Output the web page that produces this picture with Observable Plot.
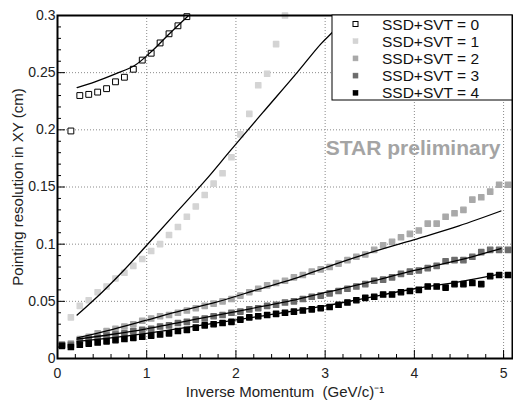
<!DOCTYPE html>
<html><head><meta charset="utf-8">
<script src="https://cdn.jsdelivr.net/npm/d3@7"></script>
<script src="https://cdn.jsdelivr.net/npm/@observablehq/plot@0.6"></script>
<style>html,body{margin:0;padding:0;background:#fff;}</style>
</head><body><div id="chart"></div>
<script>
// ---- data ----
const seriesNames = ["SSD+SVT = 0", "SSD+SVT = 1", "SSD+SVT = 2", "SSD+SVT = 3", "SSD+SVT = 4"];
const xs = [0.05,0.15,0.25,0.35,0.45,0.55,0.65,0.75,0.85,0.95,1.05,1.15,1.25,1.35,1.45,1.55,1.65,1.75,1.85,1.95,
  2.05,2.15,2.25,2.35,2.45,2.55,2.65,2.75,2.85,2.95,3.05,3.15,3.25,3.35,3.45,3.55,3.65,3.75,3.85,3.95,
  4.05,4.15,4.25,4.35,4.45,4.55,4.65,4.75,4.85,4.95,5.05];
// series 0 and 1 start at the second x value (0.15)
const y0 = [0.199,0.230,0.231,0.233,0.236,0.242,0.246,0.253,0.261,0.267,0.276,0.284,0.291,0.299];
const y1 = [0.036,0.046,0.051,0.058,0.063,0.070,0.075,0.081,0.087,0.094,0.100,0.108,0.115,0.124,0.133,0.143,
  0.153,0.162,0.176,0.196,0.214,0.239,0.249,0.275,0.300];
const y2 = [0.012,0.013,0.017,0.019,0.022,0.024,0.026,0.028,0.030,0.033,0.035,0.037,0.038,0.040,0.042,0.044,0.046,
  0.048,0.050,0.052,0.055,0.058,0.061,0.064,0.066,0.068,0.071,0.073,0.076,0.078,0.080,0.083,0.086,0.089,0.091,
  0.095,0.099,0.102,0.106,0.109,0.112,0.118,0.118,0.124,0.127,0.130,0.139,0.141,0.146,0.152,0.152];
const y3 = [0.012,0.012,0.015,0.017,0.018,0.020,0.021,0.022,0.024,0.025,0.026,0.028,0.029,0.031,0.032,0.034,0.035,
  0.037,0.038,0.040,0.041,0.043,0.044,0.046,0.047,0.049,0.050,0.052,0.054,0.055,0.057,0.059,0.061,0.063,0.065,
  0.068,0.069,0.071,0.074,0.076,0.077,0.079,0.081,0.085,0.086,0.086,0.089,0.093,0.095,0.095,0.095];
const y4 = [0.011,0.010,0.012,0.013,0.014,0.015,0.016,0.017,0.018,0.019,0.020,0.021,0.022,0.024,0.025,0.027,0.029,
  0.030,0.031,0.032,0.034,0.036,0.037,0.038,0.039,0.040,0.041,0.042,0.043,0.044,0.045,0.047,0.049,0.051,0.053,
  0.054,0.056,0.056,0.058,0.059,0.060,0.063,0.063,0.062,0.065,0.065,0.066,0.065,0.072,0.073,0.073];

// fit curves
const fit0X = [0.22,0.42,0.65,0.86,1.06,1.24,1.47];
const fit0Y = [0.237,0.242,0.249,0.256,0.269,0.283,0.300];
const fit1X = [0.22,0.5,0.76,1.0,1.3,1.66,1.94,2.3,2.69,2.95,3.09,3.25];
const fit1Y = [0.038,0.058,0.0785,0.099,0.125,0.156,0.182,0.215,0.2505,0.275,0.286,0.300];
const fit2X = [0.22,0.6,1.0,1.4,1.77,2.27,2.7,3.02,3.4,4.0,4.5,4.97];
const fit2Y = [0.018,0.025,0.0335,0.042,0.049,0.061,0.071,0.080,0.090,0.104,0.116,0.129];
const fit3X = [0.22,0.6,1.0,1.6,2.16,2.7,3.02,3.4,4.0,4.5,4.97];
const fit3Y = [0.017,0.021,0.026,0.035,0.0435,0.052,0.058,0.065,0.077,0.086,0.096];
const fit4X = [0.22,0.6,1.0,1.6,2.27,3.0,3.4,4.0,4.5,4.97];
const fit4Y = [0.015,0.018,0.022,0.029,0.037,0.046,0.052,0.061,0.067,0.074];

const xMajor = [0,1,2,3,4,5];
const xTickLabels = ["0","1","2","3","4","5"];
const xMinor = [0.2,0.4,0.6,0.8,1.2,1.4,1.6,1.8,2.2,2.4,2.6,2.8,3.2,3.4,3.6,3.8,4.2,4.4,4.6,4.8,5.0];
const yMajor = [0,0.05,0.1,0.15,0.2,0.25,0.3];
const yTickLabels = ["0","0.05","0.1","0.15","0.2","0.25","0.3"];
const yMinor = [0.01,0.02,0.03,0.04,0.06,0.07,0.08,0.09,0.11,0.12,0.13,0.14,0.16,0.17,0.18,0.19,
  0.21,0.22,0.23,0.24,0.26,0.27,0.28,0.29];
const xTitle = "Inverse Momentum  (GeV/c)⁻¹";
const yTitle = "Pointing resolution in XY (cm)";
const watermark = "STAR preliminary";

// ---- styles ----
const fills = ["white", "#d4d4d4", "#a9a9a9", "#6c6c6c", "#000000"];
const font = "'Liberation Sans', Arial, Helvetica, sans-serif";

// ---- build tables ----
const pts = (ys, offset, s) => ys.map((y, i) => ({x: xs[i + offset], y, s}));
const pts0 = pts(y0, 1, 0), pts1 = pts(y1, 1, 1), pts2 = pts(y2, 0, 2), pts3 = pts(y3, 0, 3), pts4 = pts(y4, 0, 4);
const fit = (X, Y) => X.map((x, i) => ({x, y: Y[i]}));
const fits = [fit(fit0X, fit0Y), fit(fit1X, fit1Y), fit(fit2X, fit2Y), fit(fit3X, fit3Y), fit(fit4X, fit4Y)];

const filledDot = (data, i) => Plot.dot(data, {x: "x", y: "y", symbol: "square", r: 3.0,
  fill: fills[i], stroke: fills[i], strokeWidth: 1.3, strokeLinejoin: "round"});

function legend(index, scales, values, dims) {
  const right = dims.width - dims.marginRight;
  const top = dims.marginTop;
  const g = d3.create("svg:g").attr("font-family", font).attr("text-anchor", "start");
  g.append("rect").attr("x", right - 180).attr("y", top).attr("width", 180).attr("height", 85)
    .attr("fill", "white").attr("stroke", "black").attr("stroke-width", 1);
  seriesNames.forEach((name, i) => {
    const cy = top + 9 + i * 17.2;
    g.append("rect").attr("x", right - 159).attr("y", cy - 2.5).attr("width", 5).attr("height", 5)
      .attr("fill", fills[i]).attr("stroke", i === 0 ? "black" : fills[i]).attr("stroke-width", i === 0 ? 1 : 0.5);
    g.append("text").attr("x", right - 130).attr("y", cy).attr("dy", "0.36em")
      .attr("font-size", 15.5).attr("fill", "#111").text(name);
  });
  return g.node();
}

const plot = Plot.plot({
  width: 513, height: 401,
  marginLeft: 57, marginRight: 1, marginTop: 15, marginBottom: 43,
  x: {domain: [0, 5.1]},
  y: {domain: [0, 0.3]},
  style: {fontFamily: font, fontSize: "14px", color: "#222", background: "#fff"},
  marks: [
    Plot.ruleX(xMajor.slice(1), {stroke: "#8a8a8a", strokeWidth: 1, strokeDasharray: "1,2"}),
    Plot.ruleY(yMajor.slice(1, -1), {stroke: "#8a8a8a", strokeWidth: 1, strokeDasharray: "1,2"}),
    Plot.dot(pts0, {x: "x", y: "y", symbol: "square", r: 3.3, fill: "white", stroke: "black", strokeWidth: 1}),
    filledDot(pts1, 1),
    filledDot(pts2, 2),
    filledDot(pts3, 3),
    filledDot(pts4, 4),
    ...fits.map(f => Plot.line(f, {x: "x", y: "y", curve: "catmull-rom", stroke: "black", strokeWidth: 1.3, clip: true})),
    Plot.text([watermark], {frameAnchor: "top-right", dx: -12, dy: 133, textAnchor: "end", lineAnchor: "middle",
      fontWeight: "bold", fontSize: 21, fill: "#a4a4a4"}),
    // minor and major ticks (inside)
    Plot.axisY({ticks: yMinor, tickSize: -4, tickFormat: () => "", label: null, stroke: "black"}),
    Plot.axisY({ticks: yMajor, tickSize: -8, tickFormat: () => "", label: null, stroke: "black"}),
    Plot.axisX({ticks: xMinor, tickSize: -4, tickFormat: () => "", label: null, stroke: "black"}),
    Plot.axisX({ticks: xMajor, tickSize: -8, tickFormat: () => "", label: null, stroke: "black"}),
    // tick labels
    Plot.axisY({ticks: yMajor, tickSize: 0, tickPadding: 2, tickFormat: (d, i) => yTickLabels[i], label: null, fontSize: 14, fill: "#222"}),
    Plot.axisX({ticks: xMajor, tickSize: 0, tickPadding: 10, tickFormat: (d, i) => xTickLabels[i], label: null, fontSize: 14, fill: "#222"}),
    Plot.frame({stroke: "black", strokeWidth: 2}),
    Plot.text([xTitle], {frameAnchor: "bottom", dy: 34, lineAnchor: "middle", textAnchor: "middle", fontSize: 15, fill: "#222"}),
    Plot.text([yTitle], {frameAnchor: "left", dx: -39, rotate: -90, lineAnchor: "middle", textAnchor: "middle", fontSize: 15, fill: "#222"}),
    legend
  ]
});
document.getElementById("chart").appendChild(plot);
</script>
</body></html>
